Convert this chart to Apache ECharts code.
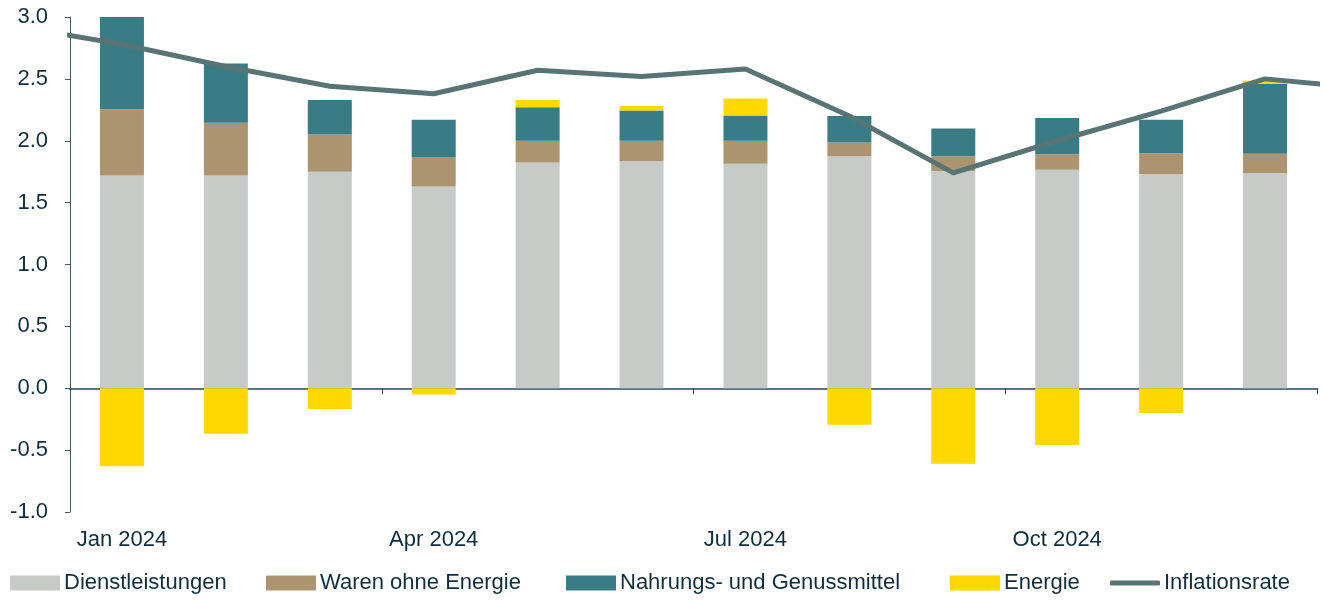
<!DOCTYPE html>
<html>
<head>
<meta charset="utf-8">
<script src="https://cdn.jsdelivr.net/npm/echarts@6/dist/echarts.min.js"></script>
<style>
html,body{margin:0;padding:0;background:#fff;}
#chart{width:1323px;height:600px;}
</style>
</head>
<body>
<div id="chart"></div>
<script>
const months = ['Jan 2024','Feb 2024','Mar 2024','Apr 2024','May 2024','Jun 2024','Jul 2024','Aug 2024','Sep 2024','Oct 2024','Nov 2024','Dec 2024'];
const services = [1.72, 1.72, 1.75, 1.63, 1.825, 1.835, 1.815, 1.875, 1.755, 1.765, 1.73, 1.74];
const goods    = [0.535, 0.425, 0.30, 0.235, 0.175, 0.165, 0.185, 0.11, 0.12, 0.125, 0.17, 0.155];
const food     = [0.745, 0.48, 0.28, 0.305, 0.27, 0.245, 0.205, 0.215, 0.225, 0.293, 0.27, 0.565];
const energy   = [-0.63, -0.367, -0.167, -0.05, 0.06, 0.035, 0.137, -0.295, -0.61, -0.46, -0.20, 0.025];
// inflation rate incl. Dec 2023 and Jan 2025 (the line runs off both plot edges)
const inflationMonths = ['Dec 2023','Jan 2024','Feb 2024','Mar 2024','Apr 2024','May 2024','Jun 2024','Jul 2024','Aug 2024','Sep 2024','Oct 2024','Nov 2024','Dec 2024','Jan 2025'];
const inflation = [2.92, 2.78, 2.60, 2.44, 2.38, 2.57, 2.52, 2.58, 2.20, 1.74, 2.00, 2.24, 2.50, 2.42];
const yTicks = {min: -1, max: 3, interval: 0.5};

const names = ['Dienstleistungen','Waren ohne Energie','Nahrungs- und Genussmittel','Energie','Inflationsrate'];
const colors = ['#c6cbc8','#ad9470','#3a7c86','#ffd800','#587475'];
const textColor = '#0e2e3e';
const font = 'Liberation Sans, Arial, sans-serif';
const fs = 22;

const chart = echarts.init(document.getElementById('chart'));
const lineData = inflation.map((v, i) => [i - 1, v]);

const legendLefts = [10, 266, 566, 950, 1110];
const legends = names.map((n, i) => ({
  data: [n], left: legendLefts[i], top: 572, padding: 0,
  itemWidth: 50, itemHeight: i === 4 ? 5 : 15, itemGap: 0,
  icon: i === 4 ? 'roundRect' : 'rect',
  textStyle: {color: textColor, fontSize: fs, fontFamily: font, padding: [0,0,0,-1]},
  selectedMode: false
}));

const barSeries = [services, goods, food, energy].map((d, i) => ({
  name: names[i], type: 'bar', stack: 'total', data: d,
  xAxisIndex: 0, yAxisIndex: 0, barWidth: 44,
  itemStyle: {color: colors[i]}, emphasis: {disabled: true}, z: 2
}));

chart.setOption({
  animation: false,
  color: colors,
  textStyle: {fontFamily: font},
  legend: legends,
  grid: {left: 70, right: 6, top: 17, bottom: 88, containLabel: false},
  xAxis: [
    {type: 'category', data: months, position: 'bottom', boundaryGap: true,
     axisLine: {show: false, onZero: false}, axisTick: {show: false},
     axisLabel: {interval: 2, color: textColor, fontSize: fs, fontFamily: font, margin: 17},
     splitLine: {show: false}},
    {type: 'category', data: months, position: 'bottom', boundaryGap: true,
     axisLine: {show: true, onZero: true, lineStyle: {color: '#5a7480', width: 2}},
     axisTick: {show: true, interval: 2, length: 6, lineStyle: {color: '#2f4855', width: 1}},
     axisLabel: {show: false}, splitLine: {show: false}},
    {type: 'value', min: -0.5, max: 11.5, show: false, splitLine: {show: false}}
  ],
  yAxis: [{
    type: 'value', min: yTicks.min, max: yTicks.max, interval: yTicks.interval,
    axisLine: {show: true, onZero: false, lineStyle: {color: '#3f5a66', width: 1}},
    axisTick: {show: true, length: 5, lineStyle: {color: '#3f5a66'}},
    axisLabel: {color: textColor, fontSize: fs, fontFamily: font, margin: 22,
      formatter: v => v.toFixed(1)},
    splitLine: {show: false}
  }],
  series: [
    ...barSeries,
    {name: names[4], type: 'line', data: lineData, xAxisIndex: 2, yAxisIndex: 0,
     symbol: 'none', clip: true, z: 5,
     lineStyle: {color: colors[4], width: 5, cap: 'butt', join: 'round'},
     itemStyle: {color: colors[4]}, emphasis: {disabled: true}}
  ]
});
</script>
</body>
</html>
